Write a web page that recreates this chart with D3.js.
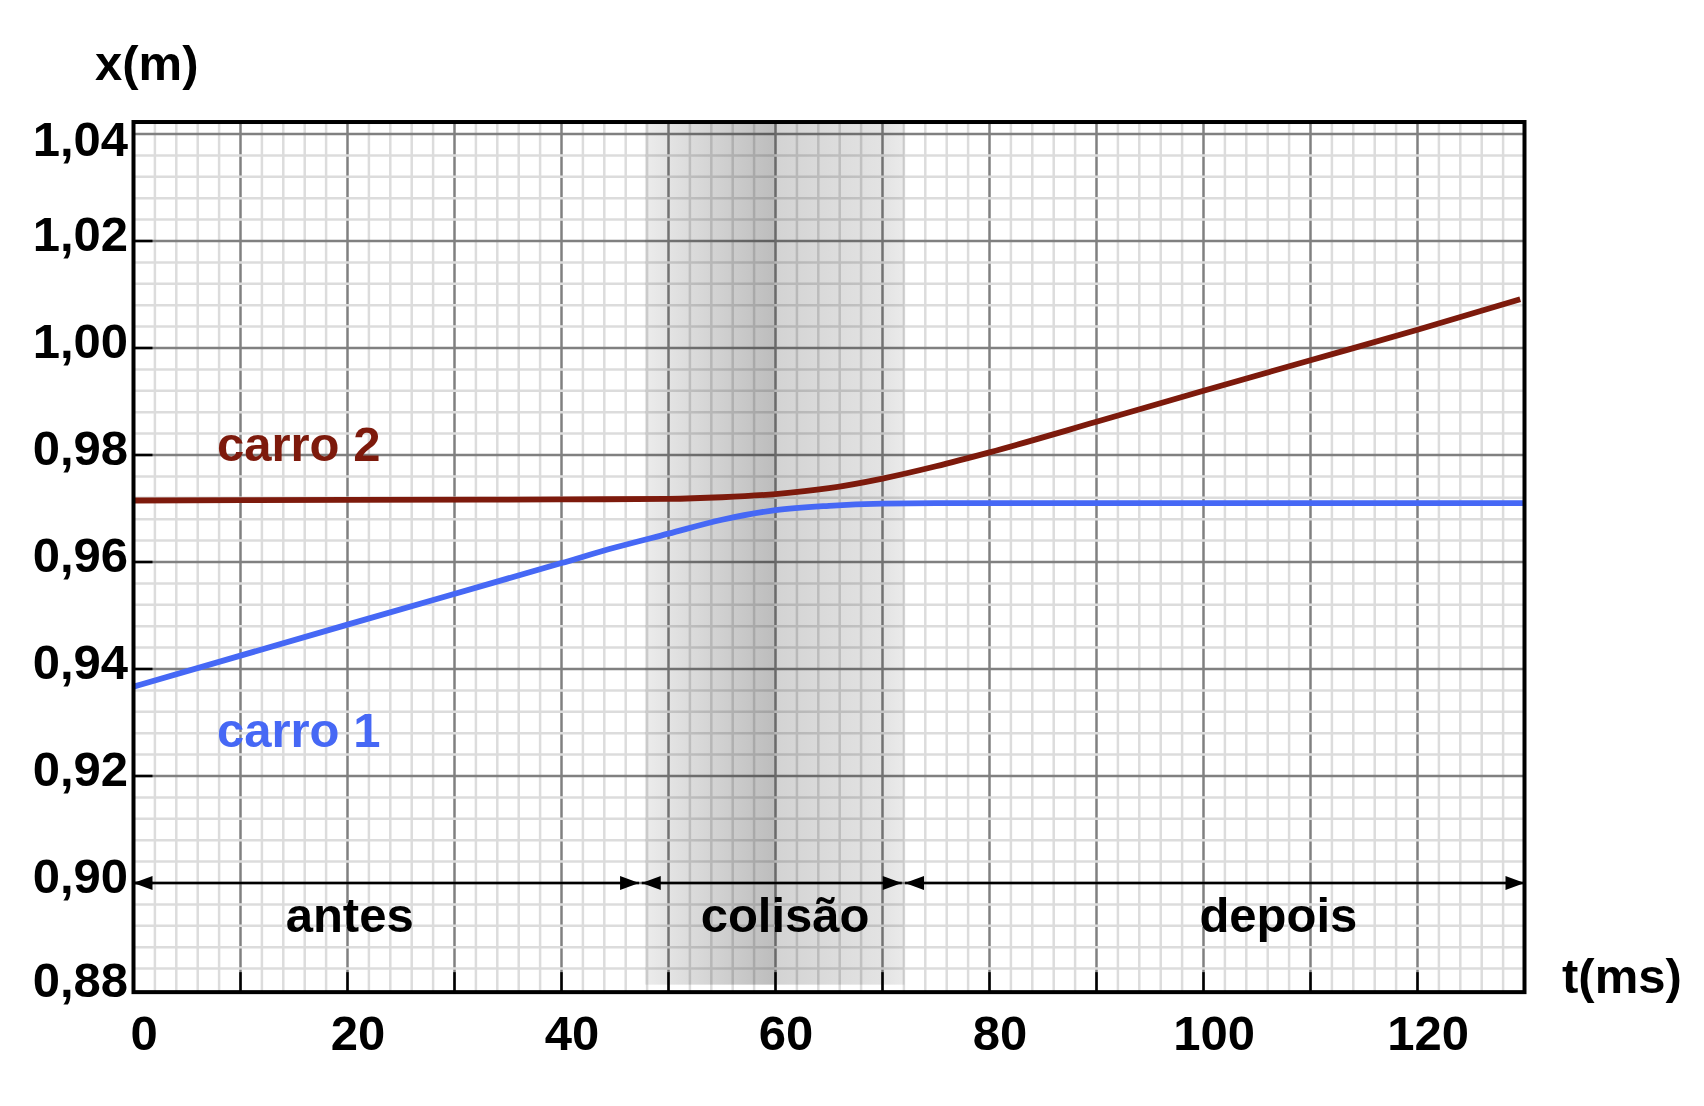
<!DOCTYPE html>
<html>
<head>
  <meta charset="utf-8">
  <script src="https://d3js.org/d3.v7.min.js"></script>
  <style>
    body { margin: 0; background: #fff; }
    text { font-family: "Liberation Sans", Arial, sans-serif; font-weight: bold; }
  </style>
</head>
<body>
  <div id="chart"></div>
<script>

  // data
  var tCarro1 = [0, 20, 40, 45, 50, 55, 60, 65, 70, 75, 80, 100, 130];
  var xCarro1 = [0.9367, 0.9483, 0.9598, 0.9627, 0.9653, 0.9679, 0.9697, 0.9705, 0.9709, 0.9710, 0.9710, 0.9710, 0.9710];

  var tCarro2 = [0, 20, 40, 50, 55, 60, 65, 70, 75, 80, 90, 100, 110, 120, 129.6];
  var xCarro2 = [0.9715, 0.9716, 0.9717, 0.9718, 0.9721, 0.9727, 0.9738, 0.9756, 0.9779, 0.9805, 0.9862, 0.9920, 0.9977, 1.0034, 1.0091];

  var xTicks = [0, 20, 40, 60, 80, 100, 120];
  var yTicks = [0.88, 0.90, 0.92, 0.94, 0.96, 0.98, 1.00, 1.02, 1.04];

  var phaseNames = ["antes", "colisão", "depois"];
  var phaseStart = [0, 47.5, 72.1];
  var phaseEnd = [47.25, 71.8, 130];
  var phaseLabelT = [20.2, 60.9, 107];

  // collision band (ms): start, darkest, edge, fade, end
  var band = [47.8, 59.8, 60, 70, 72.05];

  var width = 1704, height = 1106;

  var svg = d3.select("#chart").append("svg")
      .attr("width", width)
      .attr("height", height);

  var x = d3.scaleLinear().domain([0, 130]).range([133.5, 1524.5]);
  var y = d3.scaleLinear().domain([0.88, 1.04]).range([990, 134]);

  var yTop = y(1.04224), yBottom = y(0.8796);

  // shaded collision band
  var defs = svg.append("defs");
  var grad = defs.append("linearGradient").attr("id", "band")
      .attr("x1", "0%").attr("x2", "100%").attr("y1", "0%").attr("y2", "0%");
  var bw = band[4] - band[0];
  var stops = [
    [0, "#ececec"],
    [(band[1] - band[0]) / bw, "#bdbdbd"],
    [(band[2] - band[0]) / bw, "#d3d3d3"],
    [(band[3] - band[0]) / bw, "#e3e3e3"],
    [1, "#ebebeb"]
  ];
  stops.forEach(function(s) {
    grad.append("stop").attr("offset", s[0]).attr("stop-color", s[1]);
  });
  svg.append("rect")
      .attr("x", x(band[0]))
      .attr("width", x(band[4]) - x(band[0]))
      .attr("y", y(1.0420))
      .attr("height", y(0.881) - y(1.0420))
      .attr("fill", "url(#band)");

  // grid
  var grid = svg.append("g").style("mix-blend-mode", "multiply");
  var minorT = d3.range(0, 131, 2).filter(function(d) { return d % 10 !== 0; });
  var majorT = d3.range(10, 130, 10);
  var minorX = d3.range(0, 41).map(function(i) { return 0.88 + i * 0.004; })
      .filter(function(d, i) { return i % 5 !== 0; });
  var majorX = d3.range(1, 9).map(function(i) { return 0.88 + i * 0.02; });

  grid.selectAll(".vmin").data(minorT).enter().append("line")
      .attr("x1", function(d) { return x(d); }).attr("x2", function(d) { return x(d); })
      .attr("y1", yTop).attr("y2", yBottom)
      .attr("stroke", "#dcdcdc").attr("stroke-width", 2.5);
  grid.selectAll(".vmaj").data(majorT).enter().append("line")
      .attr("x1", function(d) { return x(d); }).attr("x2", function(d) { return x(d); })
      .attr("y1", yTop).attr("y2", yBottom)
      .attr("stroke", "#808080").attr("stroke-width", 2.5);
  grid.selectAll(".hmin").data(minorX).enter().append("line")
      .attr("x1", x(0)).attr("x2", x(130))
      .attr("y1", function(d) { return y(d); }).attr("y2", function(d) { return y(d); })
      .attr("stroke", "#dcdcdc").attr("stroke-width", 2.5);
  grid.selectAll(".hmaj").data(majorX).enter().append("line")
      .attr("x1", x(0)).attr("x2", x(130))
      .attr("y1", function(d) { return y(d); }).attr("y2", function(d) { return y(d); })
      .attr("stroke", "#808080").attr("stroke-width", 2.5);

  // inward black tick marks
  svg.selectAll(".ty").data(majorX.filter(function(d) { return d < 1.039; })).enter().append("line")
      .attr("x1", x(0)).attr("x2", x(0) + 19)
      .attr("y1", function(d) { return y(d); }).attr("y2", function(d) { return y(d); })
      .attr("stroke", "#000").attr("stroke-width", 2.5);
  svg.selectAll(".tx").data(majorT).enter().append("line")
      .attr("x1", function(d) { return x(d); }).attr("x2", function(d) { return x(d); })
      .attr("y1", yBottom).attr("y2", yBottom - 20)
      .attr("stroke", "#000").attr("stroke-width", 2.5);

  // phase arrows
  var ya = y(0.90);
  function head(tip, dir) {
    return "M" + tip + "," + ya + "L" + (tip - dir * 19) + "," + (ya - 7) +
           "L" + (tip - dir * 19) + "," + (ya + 7) + "Z";
  }
  phaseNames.forEach(function(name, i) {
    var a = x(phaseStart[i]), b = x(phaseEnd[i]);
    svg.append("line").attr("x1", a).attr("x2", b).attr("y1", ya).attr("y2", ya)
        .attr("stroke", "#000").attr("stroke-width", 2.5);
    svg.append("path").attr("d", head(a, -1)).attr("fill", "#000");
    svg.append("path").attr("d", head(b, 1)).attr("fill", "#000");
    svg.append("text")
        .attr("x", x(phaseLabelT[i])).attr("y", y(0.89084))
        .attr("text-anchor", "middle")
        .style("font-size", "49px")
        .text(name);
  });

  // curves
  var line = d3.line()
      .x(function(d) { return x(d[0]); })
      .y(function(d) { return y(d[1]); })
      .curve(d3.curveMonotoneX);

  svg.append("path")
      .datum(d3.zip(tCarro2, xCarro2))
      .attr("fill", "none").attr("stroke", "#7d1a0c").attr("stroke-width", 5.8)
      .attr("d", line);
  svg.append("path")
      .datum(d3.zip(tCarro1, xCarro1))
      .attr("fill", "none").attr("stroke", "#4668f5").attr("stroke-width", 5.8)
      .attr("d", line);

  svg.append("text").attr("x", x(7.8)).attr("y", y(0.97888))
      .attr("fill", "#7d1a0c").style("font-size", "49px").text("carro 2");
  svg.append("text").attr("x", x(7.8)).attr("y", y(0.92542))
      .attr("fill", "#4668f5").style("font-size", "49px").text("carro 1");

  // frame
  svg.append("rect")
      .attr("x", x(0)).attr("y", yTop)
      .attr("width", x(130) - x(0)).attr("height", yBottom - yTop)
      .attr("fill", "none").attr("stroke", "#000").attr("stroke-width", 4);

  // axes labels
  var fmt = function(d) { return d3.format(".2f")(d).replace(".", ","); };

  var xAxis = svg.append("g")
      .attr("transform", "translate(10," + y(0.88) + ")")
      .call(d3.axisBottom(x).tickValues(xTicks).tickSize(0).tickPadding(25));
  xAxis.select(".domain").remove();
  xAxis.selectAll("text").attr("fill", "#000")
      .style("font-size", "49px").style("font-family", "Liberation Sans, Arial, sans-serif")
      .style("font-weight", "bold");

  var yAxis = svg.append("g")
      .attr("transform", "translate(128,0)")
      .call(d3.axisLeft(y).tickValues(yTicks).tickFormat(fmt).tickSize(0).tickPadding(0));
  yAxis.select(".domain").remove();
  yAxis.selectAll("text").attr("fill", "#000")
      .attr("dy", function(d) { return d > 1.039 ? 21 : (d < 0.881 ? 6 : 9); })
      .style("font-size", "49px").style("font-family", "Liberation Sans, Arial, sans-serif")
      .style("font-weight", "bold");

  svg.append("text").attr("x", 95).attr("y", 80)
      .style("font-size", "49px").text("x(m)");
  svg.append("text").attr("x", 1562).attr("y", 993)
      .style("font-size", "49px").text("t(ms)");

</script>
</body>
</html>
